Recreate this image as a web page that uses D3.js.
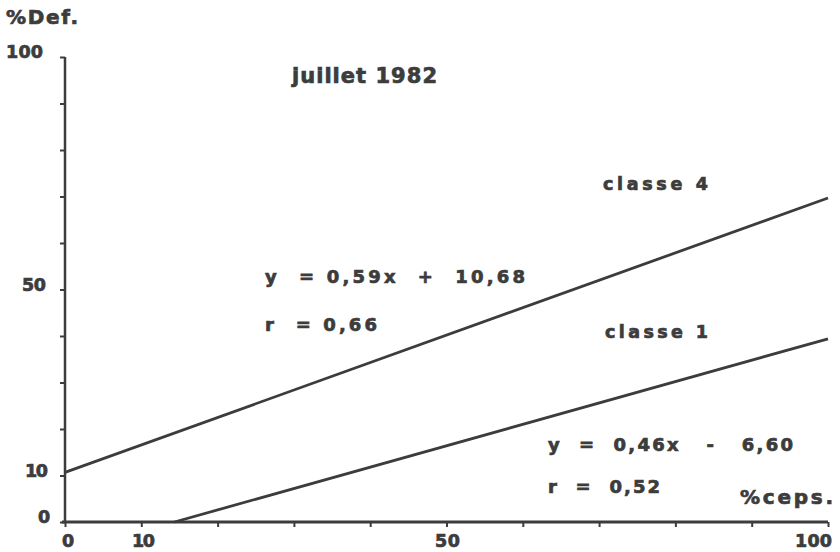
<!DOCTYPE html>
<html>
<head>
<meta charset="utf-8">
<script src="https://cdn.jsdelivr.net/npm/d3@7"></script>
<style>
  html, body { margin: 0; padding: 0; background: #fff; }
  svg text { font-family: "DejaVu Sans", "Liberation Sans", sans-serif; font-weight: bold; fill: #3c3c3c; stroke: #3c3c3c; stroke-width: 0.7px; white-space: pre; }
</style>
</head>
<body>
<svg id="chart" width="840" height="552"></svg>
<script>
// Axis ticks and labels
const xTicks = [0, 10, 20, 30, 40, 50, 60, 70, 80, 90, 100];
const xTickLabels = [0, 10, 50, 100];
const yTicks = [0, 10, 20, 30, 40, 50, 60, 70, 80, 90, 100];
const yTickLabels = [0, 10, 50, 100];

// Regression lines (endpoints from the fitted equations)
const classe4 = [[0, 10.68], [100, 69.68]];
const classe1 = [[14.35, 0], [100, 39.4]];

// Annotation texts
const annotationTexts = [
  "juillet 1982",
  "classe 4",
  "y  = 0,59x  +  10,68",
  "r  = 0,66",
  "classe 1",
  "y  =  0,46x   -   6,60",
  "r  =  0,52"
];

const svg = d3.select("#chart");
const ink = "#3c3c3c";

const x = d3.scaleLinear().domain([0, 100]).range([65, 828]);
const y = d3.scaleLinear().domain([0, 100]).range([522, 57]);

// Text layout: left edge (px), baseline (px), font size, rendered width
const annotationLayout = [
  { left: 292, base: 83, size: 21, width: 145 },
  { left: 603, base: 190, size: 17.5, width: 105 },
  { left: 265, base: 283, size: 18, width: 260 },
  { left: 265, base: 331, size: 18, width: 112 },
  { left: 605, base: 338, size: 17.5, width: 103 },
  { left: 548, base: 451, size: 18, width: 245 },
  { left: 548, base: 493, size: 18, width: 112 }
];

function fitText(sel, width) {
  sel.attr("textLength", width).attr("lengthAdjust", "spacing");
}

// X axis: ticks downward, labels only at selected values
const xAxis = d3.axisBottom(x).tickValues(xTicks).tickSize(5).tickSizeOuter(0).tickFormat("");
const gx = svg.append("g").attr("transform", `translate(0,${y(0)})`).call(xAxis);
gx.select(".domain").attr("stroke", ink).attr("stroke-width", 3).attr("d", `M${x(0) - 3},0H${x(100)}`);
gx.selectAll(".tick line").attr("stroke", ink).attr("stroke-width", 2);

const xLabelBox = { 0: [62, 12], 10: [132, 23], 50: [435, 25], 100: [795, 37] };
svg.append("g").selectAll("text").data(xTickLabels).join("text")
  .attr("x", d => xLabelBox[d][0])
  .attr("y", 547)
  .attr("font-size", 17.5)
  .text(d => d)
  .each(function (d) { fitText(d3.select(this), xLabelBox[d][1]); });

// Y axis: ticks leftward
const yAxis = d3.axisLeft(y).tickValues(yTicks).tickSize(5).tickSizeOuter(0).tickFormat("");
const gy = svg.append("g").attr("transform", `translate(${x(0)},0)`).call(yAxis);
gy.select(".domain").attr("stroke", ink).attr("stroke-width", 2.5).attr("d", `M0,${y(100)}V${y(0)}`);
gy.selectAll(".tick line").attr("stroke", ink).attr("stroke-width", 2);

const yLabelBox = { 0: [38, 12], 10: [25, 23], 50: [22, 24], 100: [6, 37] };
svg.append("g").selectAll("text").data(yTickLabels).join("text")
  .attr("x", d => yLabelBox[d][0])
  .attr("y", d => y(d) + 1)
  .attr("font-size", 17.5)
  .text(d => d)
  .each(function (d) { fitText(d3.select(this), yLabelBox[d][1]); });

// Axis titles
svg.append("text").attr("x", 6).attr("y", 24).attr("font-size", 20)
  .text("%Def.").call(fitText, 72);
svg.append("text").attr("x", 740).attr("y", 504).attr("font-size", 20)
  .text("%ceps.").call(fitText, 93);

// Regression lines
const line = d3.line().x(d => x(d[0])).y(d => y(d[1]));
svg.append("g").selectAll("path").data([classe4, classe1]).join("path")
  .attr("d", line)
  .attr("fill", "none")
  .attr("stroke", ink)
  .attr("stroke-width", 2.8);

// Text annotations
svg.append("g").selectAll("text").data(annotationTexts).join("text")
  .attr("x", (d, i) => annotationLayout[i].left)
  .attr("y", (d, i) => annotationLayout[i].base)
  .attr("font-size", (d, i) => annotationLayout[i].size)
  .text(d => d)
  .each(function (d, i) { fitText(d3.select(this), annotationLayout[i].width); });
</script>
</body>
</html>
